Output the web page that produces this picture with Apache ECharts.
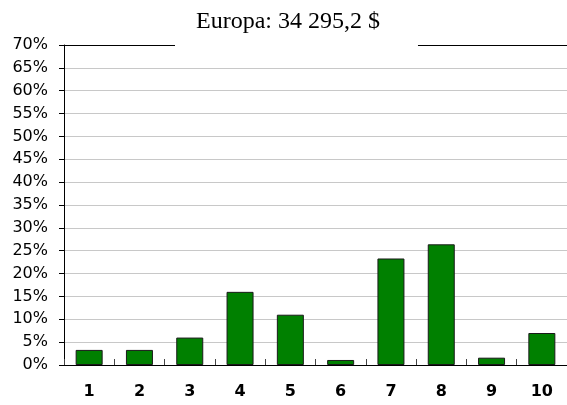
<!DOCTYPE html>
<html>
<head>
<meta charset="utf-8">
<script src="https://cdn.jsdelivr.net/npm/echarts@6/dist/echarts.min.js"></script>
<style>
  html, body { margin: 0; padding: 0; background: #fff; }
  #chart { width: 567px; height: 405px; }
</style>
</head>
<body>
<div id="chart"></div>
<script>
// Share of total per group (percent)
const categories = ['1', '2', '3', '4', '5', '6', '7', '8', '9', '10'];
const shares = [3.3, 3.3, 6.0, 16.0, 11.0, 1.1, 23.3, 26.4, 1.6, 7.0];
const titleText = 'Europa: 34 295,2 $';

const chart = echarts.init(document.getElementById('chart'), null, { renderer: 'canvas' });

chart.setOption({
  animation: false,
  backgroundColor: '#ffffff',
  title: {
    text: titleText,
    left: 175,
    top: 6,
    padding: [4, 38, 14, 21],
    backgroundColor: '#ffffff',
    textStyle: {
      fontFamily: '"Liberation Serif", "Times New Roman", serif',
      fontSize: 24,
      fontWeight: 'normal',
      color: '#000000'
    }
  },
  grid: { left: 64, top: 45, width: 507, height: 320, containLabel: false },
  xAxis: [
    {
      type: 'category',
      data: categories,
      boundaryGap: true,
      axisLine: { lineStyle: { color: '#000000', width: 1 } },
      axisTick: { show: true, inside: true, length: 6, lineStyle: { color: '#444444' } },
      axisLabel: {
        margin: 19,
        fontFamily: '"DejaVu Sans", Verdana, sans-serif',
        fontSize: 16,
        fontWeight: 'bold',
        color: '#000000'
      },
      splitLine: { show: false }
    },
    {
      // top border of the plot area
      type: 'category',
      data: categories,
      position: 'top',
      axisLine: { lineStyle: { color: '#000000', width: 1 } },
      axisTick: { show: false },
      axisLabel: { show: false },
      splitLine: { show: false }
    }
  ],
  yAxis: {
    type: 'value',
    min: 0,
    max: 70,
    interval: 5,
    axisLine: { show: true, lineStyle: { color: '#000000', width: 1 } },
    axisTick: { show: true, length: 5, lineStyle: { color: '#000000' } },
    axisLabel: {
      margin: 16,
      formatter: '{value}%',
      fontFamily: '"DejaVu Sans", Verdana, sans-serif',
      fontSize: 16,
      color: '#000000'
    },
    splitLine: { show: true, lineStyle: { color: '#c8c8c8', width: 1 } }
  },
  series: [{
    type: 'bar',
    xAxisIndex: 0,
    data: shares,
    barWidth: 27,
    itemStyle: { color: '#008000', borderColor: '#1a1a1a', borderWidth: 1 }
  }]
});
</script>
</body>
</html>
